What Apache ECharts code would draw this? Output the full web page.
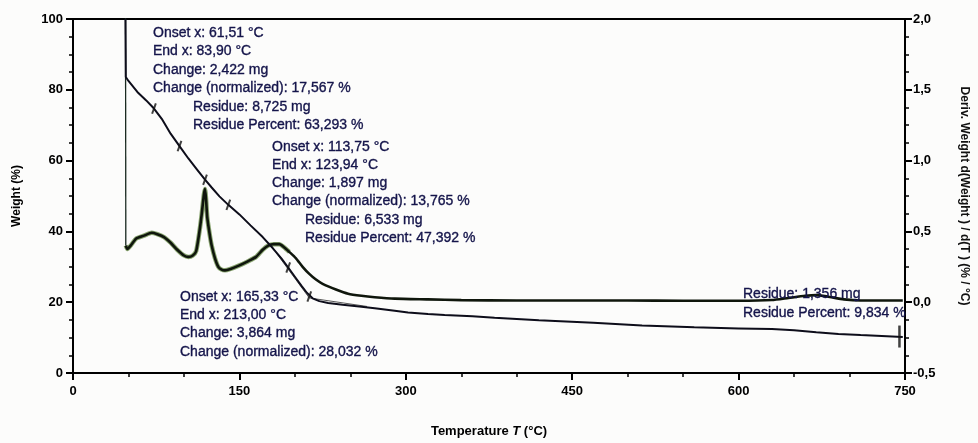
<!DOCTYPE html>
<html>
<head>
<meta charset="utf-8">
<script src="https://cdn.jsdelivr.net/npm/echarts@6/dist/echarts.min.js"></script>
<style>
html,body{margin:0;padding:0;background:#fcfcfb;}
#chart{width:978px;height:443px;}
</style>
</head>
<body>
<div id="chart"></div>
<script>
// Weight (%) vs temperature (°C)
var weightCurve = [
  [47.3, 100], [47.6, 83.6], [50, 82.5], [58, 79.4], [66, 77.0], [73, 74.7], [80, 71.8],
  [88, 67.6], [96, 64.1], [104, 60.6], [112, 57.4], [119, 54.6], [125, 52.4], [132, 49.9],
  [140, 47.5], [150, 44.8], [160, 41.7], [171, 38.4], [180, 35.3], [188, 32.3], [194, 29.8],
  [200, 27.2], [206, 24.6], [211, 22.6], [216, 21.1], [222, 20.3], [230, 19.8], [243, 19.3],
  [258, 18.8], [272, 18.3], [290, 17.6], [302, 17.1], [320, 16.7], [335, 16.4], [360, 16.0],
  [380, 15.6], [420, 14.9], [469, 14.2], [513, 13.4], [560, 12.9], [600, 12.6], [630, 12.4],
  [650, 12.1], [670, 11.5], [690, 11.0], [710, 10.7], [748, 10.2]
];
// Derivative d(Weight)/d(T) (%/°C): steep entry from off-scale
var derivEntry = [[47.3, 2.4], [47.6, 0.40]];
// Derivative d(Weight)/d(T) (%/°C)
var derivCurve = [
  [47.6, 0.40], [49, 0.376], [52, 0.40], [57, 0.45], [64, 0.47], [71, 0.49],
  [76, 0.48], [82, 0.46], [88, 0.42], [94, 0.37], [100, 0.33], [104, 0.32], [108, 0.33],
  [111, 0.36], [114, 0.50], [116, 0.62], [118, 0.76], [119, 0.80], [120, 0.72], [121, 0.60],
  [123, 0.49], [125, 0.40], [128, 0.31], [131, 0.25], [134, 0.23], [137, 0.225], [142, 0.235],
  [150, 0.26], [158, 0.29], [165, 0.32], [171, 0.37], [176, 0.40], [181, 0.41], [186, 0.41],
  [190, 0.39], [195, 0.355], [201, 0.31], [207, 0.25], [213, 0.20], [219, 0.16], [225, 0.13],
  [237, 0.09], [248, 0.06], [260, 0.045], [272, 0.035], [290, 0.025], [320, 0.02], [350, 0.015],
  [400, 0.012], [450, 0.012], [500, 0.012], [550, 0.01], [600, 0.01], [630, 0.015], [645, 0.03],
  [660, 0.045], [670, 0.05], [680, 0.04], [695, 0.02], [710, 0.012], [748, 0.012]
];
// Onset / end tangent construction
var tangentLine = [[183, 34.0], [213, 21.2], [265, 18.8]];
// Step markers on the weight curve
var stepMarks = [[73, 74.7], [96, 64.1], [119, 54.6], [140, 47.5], [194, 29.8], [213, 21.6]];
var endMark = [[745, 10.3]];

var xTicks = [0, 150, 300, 450, 600, 750];
var leftTicks = [0, 20, 40, 60, 80, 100];
var rightTicks = ['-0,5', '0,0', '0,5', '1,0', '1,5', '2,0'];

var annotations = [
  {x: 153, y: 33, t: 'Onset x: 61,51 °C'},
  {x: 153, y: 51.5, t: 'End x: 83,90 °C'},
  {x: 153, y: 70, t: 'Change: 2,422 mg'},
  {x: 153, y: 88.5, t: 'Change (normalized): 17,567 %'},
  {x: 193, y: 107, t: 'Residue: 8,725 mg'},
  {x: 193, y: 125.5, t: 'Residue Percent: 63,293 %'},
  {x: 272, y: 147, t: 'Onset x: 113,75 °C'},
  {x: 272, y: 165, t: 'End x: 123,94 °C'},
  {x: 272, y: 183, t: 'Change: 1,897 mg'},
  {x: 272, y: 201, t: 'Change (normalized): 13,765 %'},
  {x: 305, y: 220, t: 'Residue: 6,533 mg'},
  {x: 305, y: 238, t: 'Residue Percent: 47,392 %'},
  {x: 180, y: 297, t: 'Onset x: 165,33 °C'},
  {x: 180, y: 315, t: 'End x: 213,00 °C'},
  {x: 180, y: 333.5, t: 'Change: 3,864 mg'},
  {x: 180, y: 352, t: 'Change (normalized): 28,032 %'},
  {x: 743, y: 294, t: 'Residue: 1,356 mg'},
  {x: 743, y: 313, t: 'Residue Percent: 9,834 %'}
];

var FONT = "'Liberation Sans Narrow', 'Liberation Sans', Arial, sans-serif";
var chart = echarts.init(document.getElementById('chart'), null, {renderer: 'canvas'});
var axisLabelStyle = {color: '#000', fontWeight: 'bold', fontSize: 13, fontFamily: FONT};
var derivHalo = derivCurve.filter(function (p) { return p[0] <= 200; });

chart.setOption({
  backgroundColor: '#fcfcfb',
  animation: false,
  grid: {left: 73, right: 63, top: 19, bottom: 65, show: true, borderColor: '#000', borderWidth: 2, backgroundColor: 'transparent'},
  xAxis: {
    type: 'value', min: xTicks[0], max: xTicks[xTicks.length - 1], interval: 150,
    name: '{n|Temperature }{i|T}{n| (°C)}', nameLocation: 'middle', nameGap: 52,
    nameTextStyle: {rich: {
      n: {fontWeight: 'bold', fontSize: 13, fontFamily: FONT, color: '#000'},
      i: {fontWeight: 'bold', fontStyle: 'italic', fontSize: 13, fontFamily: FONT, color: '#000'}
    }},
    axisLine: {show: true, onZero: false, lineStyle: {color: '#000', width: 2}},
    axisTick: {show: true, length: 7, lineStyle: {color: '#000', width: 2}},
    minorTick: {show: true, splitNumber: 3, length: 4, lineStyle: {color: '#000', width: 1.5}},
    splitLine: {show: false},
    axisLabel: Object.assign({margin: 12}, axisLabelStyle)
  },
  yAxis: [{
    type: 'value', min: leftTicks[0], max: leftTicks[leftTicks.length - 1], interval: 20, position: 'left',
    name: 'Weight (%)', nameLocation: 'middle', nameGap: 50,
    nameTextStyle: {fontWeight: 'bold', fontSize: 12, fontFamily: FONT, color: '#000'},
    axisLine: {show: true, onZero: false, lineStyle: {color: '#000', width: 2}},
    axisTick: {show: true, length: 7, lineStyle: {color: '#000', width: 2}},
    minorTick: {show: true, splitNumber: 4, length: 4, lineStyle: {color: '#000', width: 1.5}},
    splitLine: {show: false},
    axisLabel: Object.assign({margin: 10}, axisLabelStyle)
  }, {
    type: 'value', min: -0.5, max: 2.0, interval: 0.5, position: 'right',
    name: 'Deriv. Weight d(Weight ) / d(T ) (% / °C)', nameLocation: 'middle', nameGap: 53, nameRotate: -90,
    nameTextStyle: {fontWeight: 'bold', fontSize: 12, fontFamily: FONT, color: '#111'},
    axisLine: {show: true, onZero: false, lineStyle: {color: '#000', width: 2}},
    axisTick: {show: true, length: 7, lineStyle: {color: '#000', width: 2}},
    minorTick: {show: true, splitNumber: 4, length: 4, lineStyle: {color: '#000', width: 1.5}},
    splitLine: {show: false},
    axisLabel: Object.assign({margin: 8, formatter: function (v) {
      var i = Math.round((v + 0.5) / 0.5);
      return rightTicks[i];
    }}, axisLabelStyle)
  }],
  series: [{
    type: 'line', name: 'Derivative halo', yAxisIndex: 1, data: derivHalo, showSymbol: false, smooth: 0.2,
    lineStyle: {color: 'rgba(60,105,20,0.6)', width: 4.5},
    z: 2
  }, {
    type: 'line', name: 'Derivative entry', yAxisIndex: 1, data: derivEntry, showSymbol: false,
    lineStyle: {color: '#1a2a20', width: 1.3},
    z: 3
  }, {
    type: 'line', name: 'Derivative', yAxisIndex: 1, data: derivCurve, showSymbol: false, smooth: 0.2,
    lineStyle: {color: '#0f160c', width: 2.6},
    z: 3
  }, {
    type: 'line', name: 'Weight', yAxisIndex: 0, data: weightCurve, showSymbol: false,
    lineStyle: {color: '#0d0d1a', width: 2},
    z: 4
  }, {
    type: 'line', name: 'Tangent', yAxisIndex: 0, data: tangentLine, showSymbol: false,
    lineStyle: {color: '#555', width: 1},
    z: 2
  }, {
    type: 'scatter', yAxisIndex: 0, data: stepMarks, symbol: 'rect', symbolSize: [2, 11], symbolRotate: -20,
    itemStyle: {color: '#111'}, z: 5
  }, {
    type: 'scatter', yAxisIndex: 0, data: endMark, symbol: 'rect', symbolSize: [2.5, 22],
    itemStyle: {color: '#111'}, z: 5
  }],
  graphic: annotations.map(function (a) {
    return {type: 'text', x: a.x, y: a.y, z: 10, silent: true,
      style: {text: a.t, font: '14px ' + FONT, fill: '#14144a', stroke: '#14144a', lineWidth: 0.35,
        verticalAlign: 'middle', textVerticalAlign: 'middle'}};
  })
});
</script>
</body>
</html>
